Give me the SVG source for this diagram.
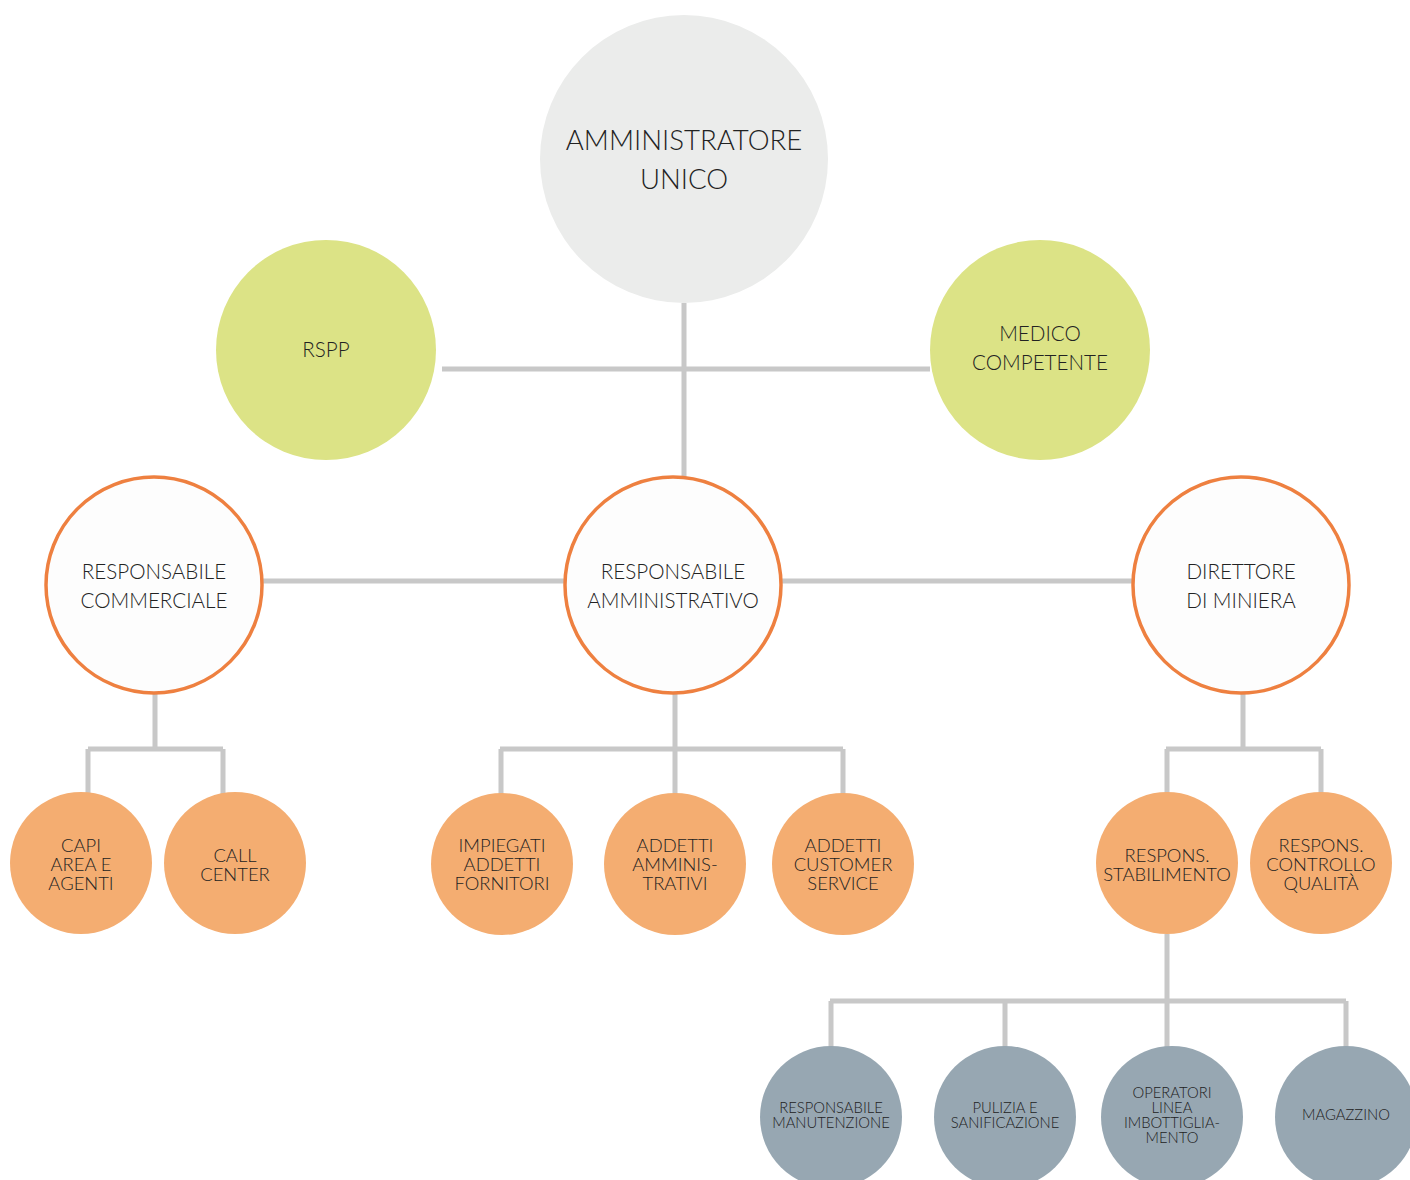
<svg xmlns="http://www.w3.org/2000/svg" width="1410" height="1180" viewBox="0 0 1410 1180">
<style>
.ln{stroke:#c8c8c8;stroke-width:5;fill:none}
text{font-family:Lato,"Liberation Sans",sans-serif;font-weight:300;fill:#222222;text-anchor:middle}
.top{fill:#ebeceb}
.grn{fill:#dce386}
.mid{fill:#fdfdfd;stroke:#ee8040;stroke-width:3.5}
.org{fill:#f4ad71}
.gry{fill:#97a7b2}
.t1{font-size:27.6px}
.t2{font-size:20.6px}
.t3{font-size:18.4px}
.t4{font-size:14.8px}
</style>
<rect width="1410" height="1180" fill="#ffffff"/>
<g id="connectors">
<path class="ln" d="M684 303V477M442 369H930"/>
<path class="ln" d="M262 581H565M782 581H1132"/>
<path class="ln" d="M155 694V749M88 749H223M88 749V795M223 749V795"/>
<path class="ln" d="M675 694V749M500 749H843M501 749V795M675 749V795M843 749V795"/>
<path class="ln" d="M1243 694V749M1166 749H1321M1167 749V795M1321 749V795"/>
<path class="ln" d="M1167 934V1001M830 1001H1346M831 1001V1047M1005 1001V1047M1167 1001V1047M1346 1001V1047"/>
</g>
<g id="amministratore"><circle class="top" cx="684" cy="159" r="144"/><text class="t1" x="684" y="150">AMMINISTRATORE</text><text class="t1" x="684" y="189">UNICO</text></g>
<g id="rspp"><circle class="grn" cx="326" cy="350" r="110"/><text class="t2" x="326" y="357">RSPP</text></g>
<g id="medico"><circle class="grn" cx="1040" cy="350" r="110"/><text class="t2" x="1040" y="341">MEDICO</text><text class="t2" x="1040" y="370">COMPETENTE</text></g>
<g id="resp-commerciale"><circle class="mid" cx="154" cy="585" r="108"/><text class="t2" x="154" y="579">RESPONSABILE</text><text class="t2" x="154" y="608">COMMERCIALE</text></g>
<g id="resp-amministrativo"><circle class="mid" cx="673" cy="585" r="108"/><text class="t2" x="673" y="579">RESPONSABILE</text><text class="t2" x="673" y="608">AMMINISTRATIVO</text></g>
<g id="direttore"><circle class="mid" cx="1241" cy="585" r="108"/><text class="t2" x="1241" y="579">DIRETTORE</text><text class="t2" x="1241" y="608">DI MINIERA</text></g>
<g id="capi"><circle class="org" cx="81" cy="863" r="71"/><text class="t3" x="81" y="852">CAPI</text><text class="t3" x="81" y="871">AREA E</text><text class="t3" x="81" y="890">AGENTI</text></g>
<g id="call-center"><circle class="org" cx="235" cy="863" r="71"/><text class="t3" x="235" y="862">CALL</text><text class="t3" x="235" y="881">CENTER</text></g>
<g id="impiegati"><circle class="org" cx="502" cy="864" r="71"/><text class="t3" x="502" y="852">IMPIEGATI</text><text class="t3" x="502" y="871">ADDETTI</text><text class="t3" x="502" y="890">FORNITORI</text></g>
<g id="addetti-amm"><circle class="org" cx="675" cy="864" r="71"/><text class="t3" x="675" y="852">ADDETTI</text><text class="t3" x="675" y="871">AMMINIS-</text><text class="t3" x="675" y="890">TRATIVI</text></g>
<g id="addetti-cs"><circle class="org" cx="843" cy="864" r="71"/><text class="t3" x="843" y="852">ADDETTI</text><text class="t3" x="843" y="871">CUSTOMER</text><text class="t3" x="843" y="890">SERVICE</text></g>
<g id="resp-stabilimento"><circle class="org" cx="1167" cy="863" r="71"/><text class="t3" x="1167" y="862">RESPONS.</text><text class="t3" x="1167" y="881">STABILIMENTO</text></g>
<g id="resp-qualita"><circle class="org" cx="1321" cy="863" r="71"/><text class="t3" x="1321" y="852">RESPONS.</text><text class="t3" x="1321" y="871">CONTROLLO</text><text class="t3" x="1321" y="890">QUALITÀ</text></g>
<g id="manutenzione"><circle class="gry" cx="831" cy="1117" r="71"/><text class="t4" x="831" y="1113">RESPONSABILE</text><text class="t4" x="831" y="1128">MANUTENZIONE</text></g>
<g id="pulizia"><circle class="gry" cx="1005" cy="1117" r="71"/><text class="t4" x="1005" y="1113">PULIZIA E</text><text class="t4" x="1005" y="1128">SANIFICAZIONE</text></g>
<g id="operatori"><circle class="gry" cx="1172" cy="1117" r="71"/><text class="t4" x="1172" y="1098">OPERATORI</text><text class="t4" x="1172" y="1113">LINEA</text><text class="t4" x="1172" y="1128">IMBOTTIGLIA-</text><text class="t4" x="1172" y="1143">MENTO</text></g>
<g id="magazzino"><circle class="gry" cx="1346" cy="1117" r="71"/><text class="t4" x="1346" y="1120">MAGAZZINO</text></g>
</svg>
